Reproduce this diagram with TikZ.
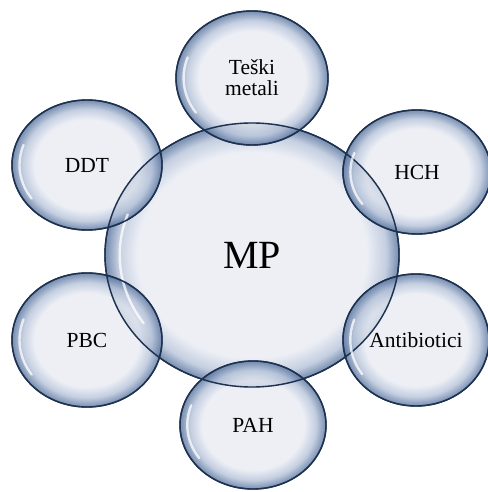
\documentclass[tikz,border=0pt]{standalone}
\usepackage{fontspec}
\setmainfont{Liberation Serif}
\usepackage{xcolor}
\usepackage{tikz}
\usetikzlibrary{shapes.geometric, calc}
\definecolor{bubbleline}{HTML}{1E3250}
\definecolor{bubblein}{HTML}{E8EBF3}
\definecolor{bubblemid}{HTML}{B6C3D9}
\definecolor{bubbleout}{HTML}{5F7AA3}
\pgfdeclareradialshading{bubbleshade}{\pgfpoint{0bp}{0bp}}{color(0bp)=(bubblein); color(17.5bp)=(bubblein); color(21.5bp)=(bubblemid); color(24.6bp)=(bubbleout); color(50bp)=(bubbleout)}
\pgfdeclareradialshading{hubshade}{\pgfpoint{0bp}{0bp}}{color(0bp)=(bubblein); color(19.5bp)=(bubblein); color(22.8bp)=(bubblemid); color(24.7bp)=(bubbleout); color(50bp)=(bubbleout)}
\tikzstyle{bubble} = [ellipse, draw=bubbleline, line width=1.4pt, shading=bubbleshade, fill opacity=0.8, draw opacity=1, text opacity=1, text=black, align=center, inner sep=0pt, outer sep=0pt, font=\fontsize{21.5}{21}\selectfont]
\tikzstyle{hub} = [bubble, shading=hubshade, font=\fontsize{40}{44}\selectfont]
\tikzstyle{rim} = [draw=bubbleline, line width=1.4pt]
\tikzstyle{gloss} = [white, line width=2.4pt, opacity=0.75, line cap=round]

\begin{document}
\begin{tikzpicture}[x=1pt, y=-1pt]
\useasboundingbox (0,0) rectangle (487,492);

\node (mp) [hub, minimum width=294pt, minimum height=264pt] at (252,255) {MP};
\node (tm) [bubble, minimum width=152pt, minimum height=134pt] at (252,78) {Teški\\metali};
\node (hch) [bubble, minimum width=148pt, minimum height=124pt] at (417,172) {HCH};
\node (ant) [bubble, minimum width=146pt, minimum height=132pt] at (416,340) {Antibiotici};
\node (pah) [bubble, minimum width=146pt, minimum height=128pt] at (253,425) {PAH};
\node (pbc) [bubble, minimum width=150pt, minimum height=134pt] at (87,340) {PBC};
\node (ddt) [bubble, minimum width=150pt, minimum height=130pt] at (87,165) {DDT};

\foreach \n/\rx/\ry in {mp/147/132, tm/76/67, hch/74/62, ant/73/66, pah/73/64, pbc/75/67, ddt/75/65} {
  \draw [rim] (\n.center) ellipse [x radius=\rx, y radius=\ry];
  \draw [gloss] ($(\n.center)+(145:{0.9*\rx} and {0.9*\ry})$) arc [start angle=145, end angle=200, x radius=0.9*\rx, y radius=0.9*\ry];
}
\end{tikzpicture}
\end{document}
